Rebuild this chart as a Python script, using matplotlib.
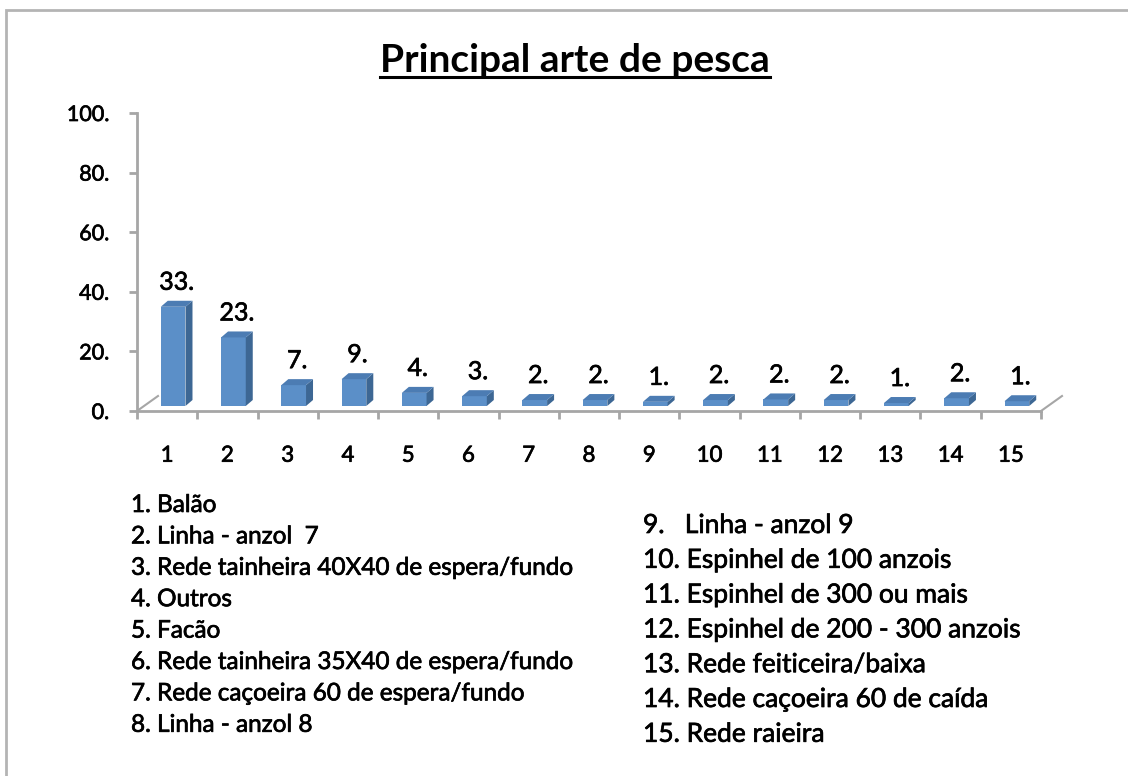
import numpy as np
import matplotlib.pyplot as plt
import matplotlib.transforms as mtransforms
import matplotlib.patheffects as pe
from matplotlib.patches import Polygon, Rectangle
from matplotlib.lines import Line2D

plt.rcParams['font.family'] = ['Lato', 'DejaVu Sans']

# data
cats = list(range(1, 16))
vals = [33.3, 23.0, 7.0, 9.0, 4.4, 3.3, 2.0, 2.0, 1.4, 2.0, 2.2, 2.0, 1.0, 2.6, 1.6]
yticks = [0, 20, 40, 60, 80, 100]

legend_left = ['1. Balão',
               '2. Linha - anzol  7',
               '3. Rede tainheira 40X40 de espera/fundo',
               '4. Outros',
               '5. Facão',
               '6. Rede tainheira 35X40 de espera/fundo',
               '7. Rede caçoeira 60 de espera/fundo',
               '8. Linha - anzol 8']
legend_right = ['9.   Linha - anzol 9',
                '10. Espinhel de 100 anzois',
                '11. Espinhel de 300 ou mais',
                '12. Espinhel de 200 - 300 anzois',
                '13. Rede feiticeira/baixa',
                '14. Rede caçoeira 60 de caída',
                '15. Rede raieira']

W, H = 1128, 776
fig = plt.figure(figsize=(W/100, H/100), dpi=100)
heavy = [pe.withStroke(linewidth=0.5, foreground='black')]

# outer frame (only top and left visible)
fig.add_artist(Rectangle((6/W, -0.1), 1.2, 1 - 10/H + 0.1, transform=fig.transFigure,
                         fill=False, ec='#b4b4b4', lw=2))

ax = fig.add_axes([137/W, (H-411)/H, 904/W, 298/H])
ax.set_xlim(0.5, 15.5)
ax.set_ylim(0, 100)

px_x = 904/15
px_y = 298/100
off = mtransforms.ScaledTranslation(6/100, 5/100, fig.dpi_scale_trans)
tr = ax.transData + off
dx = 7/px_x
dy = 6/px_y
w = 0.41
front = '#5b8fc8'
side = '#3d6794'
top = '#4c7cb3'

ax.bar(cats, vals, width=w, color=front, transform=tr, clip_on=False, zorder=3)
lab_tr = ax.transData + mtransforms.ScaledTranslation(6/100, 16/100, fig.dpi_scale_trans)
for x, v in zip(cats, vals):
    xl, xr = x - w/2, x + w/2
    ax.add_patch(Polygon([(xr, 0), (xr+dx, dy), (xr+dx, v+dy), (xr, v)], closed=True,
                         fc=side, ec='none', transform=tr, clip_on=False, zorder=3))
    ax.add_patch(Polygon([(xl, v), (xr, v), (xr+dx, v+dy), (xl+dx, v+dy)], closed=True,
                         fc=top, ec='none', transform=tr, clip_on=False, zorder=3))
    ax.text(x + dx/2, v + dy, f'{int(v)}.', transform=lab_tr, ha='center', va='baseline',
            fontsize=18, color='black', path_effects=heavy)

# floor edges
gray = '#a6a6a6'
fdx = 21/px_x
fdy = 15/px_y
for x0 in [0.5, 15.5]:
    ax.plot([x0, x0 + fdx], [0, fdy], color=gray, lw=1.5, clip_on=False)

for s in ['top', 'right']:
    ax.spines[s].set_visible(False)
for s in ['left', 'bottom']:
    ax.spines[s].set_color(gray)
    ax.spines[s].set_linewidth(2)

ax.set_yticks(yticks)
ax.set_yticklabels([f'{t}.' for t in yticks])
ax.tick_params(axis='y', direction='out', length=6, width=2, color=gray, pad=14,
               labelsize=15.5)
ax.set_xticks(cats)
ax.set_xticklabels([str(c) for c in cats])
ax.set_xticks(np.arange(0.5, 16, 1), minor=True)
ax.tick_params(axis='x', which='major', length=0, pad=25, labelsize=16)
ax.tick_params(axis='x', which='minor', direction='out', length=6, width=2, color=gray)
for lab in ax.get_xticklabels() + ax.get_yticklabels():
    lab.set_path_effects(heavy)

# title with underline
t = fig.text(575/W, 1 - 72/H, 'Principal arte de pesca', ha='center', va='baseline',
             fontsize=28, fontweight='bold')
fig.canvas.draw()
bb = t.get_window_extent()
fig.add_artist(Line2D([bb.x0/W, bb.x1/W], [1 - 77/H, 1 - 77/H], color='black', lw=2.2,
                      transform=fig.transFigure))

for i, s in enumerate(legend_left):
    fig.text(131/W, 1 - (512 + 31.4*i)/H, s, ha='left', va='baseline', fontsize=17.5,
             path_effects=heavy)
for i, s in enumerate(legend_right):
    fig.text(643/W, 1 - (533 + 34.8*i)/H, s, ha='left', va='baseline', fontsize=19,
             path_effects=heavy)

fig.savefig('out.png', dpi=100)
